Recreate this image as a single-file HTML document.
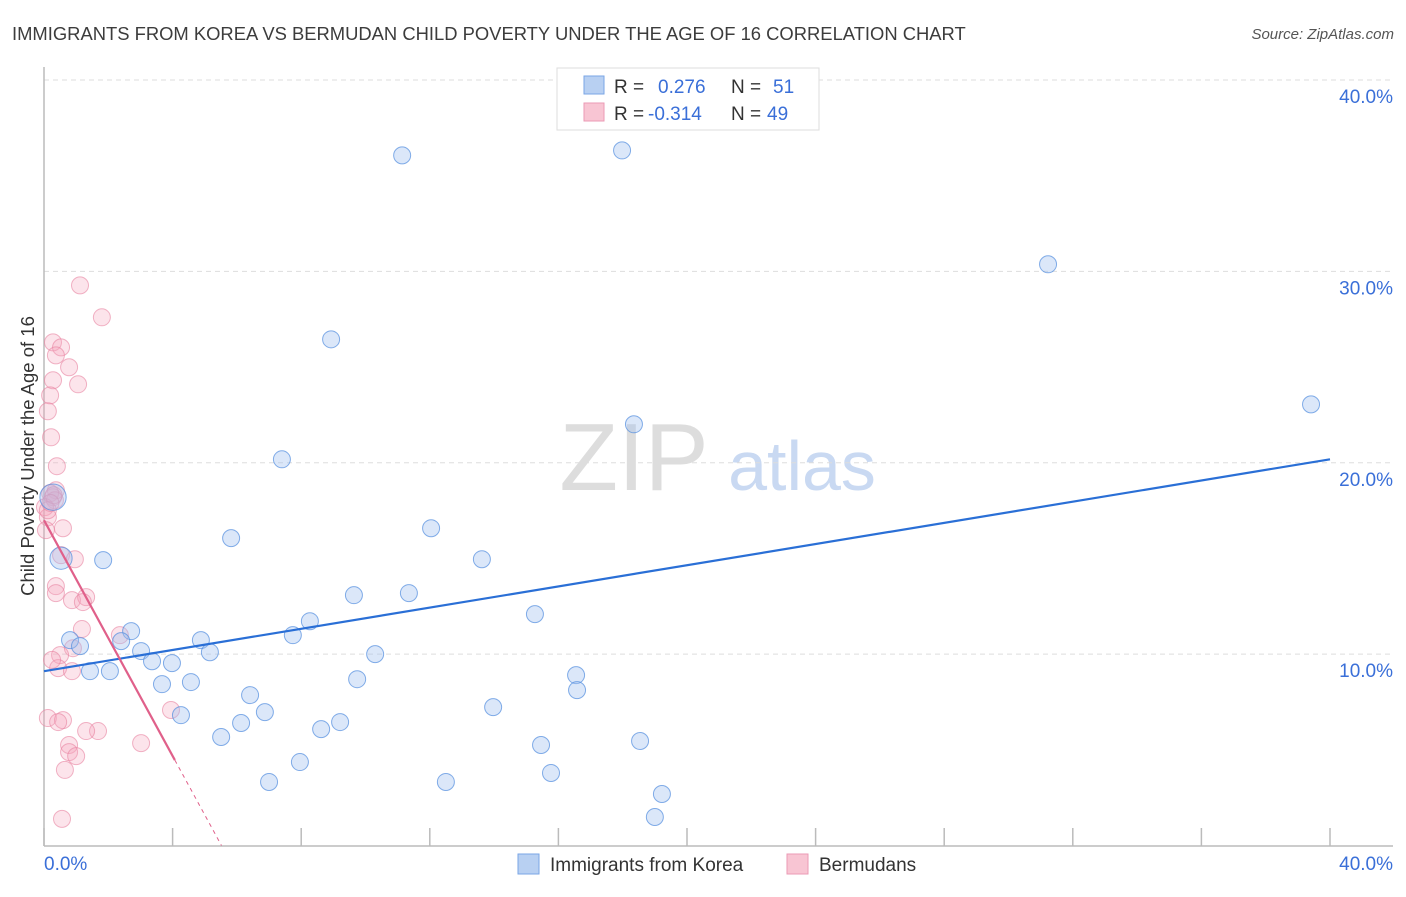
<!DOCTYPE html>
<html><head><meta charset="utf-8"><style>
body{margin:0;background:#fff;font-family:"Liberation Sans",sans-serif;}
svg text{font-family:"Liberation Sans",sans-serif;}
</style></head><body>
<svg id="chart" width="1406" height="892" viewBox="0 0 1406 892" xmlns="http://www.w3.org/2000/svg">
<text x="12" y="40" font-size="18.4" fill="#3c3c3c">IMMIGRANTS FROM KOREA VS BERMUDAN CHILD POVERTY UNDER THE AGE OF 16 CORRELATION CHART</text>
<text x="1394" y="39" font-size="15" fill="#555" text-anchor="end" font-style="italic">Source: ZipAtlas.com</text>
<g>
<text x="634" y="490" font-size="96" fill="#ddd" text-anchor="middle" font-family="Liberation Serif, serif">ZIP</text>
<text x="802" y="490" font-size="70" fill="#c9d9f2" text-anchor="middle">atlas</text>
</g>
<g id="grid"></g>
<g id="axes"></g>
<g id="marks"></g>
<g>
<rect x="557" y="68" width="262" height="62" fill="#fff" stroke="#ddd"/>
<rect x="584" y="76" width="20" height="18" fill="#b8d0f2" stroke="#7aa6e6"/>
<rect x="584" y="103" width="20" height="18" fill="#f8c5d3" stroke="#eb9ab4"/>
<text x="614" y="93" font-size="19" fill="#333">R =</text>
<text x="658" y="93" font-size="19" fill="#3a6fd8">0.276</text>
<text x="731" y="93" font-size="19" fill="#333">N =</text>
<text x="773" y="93" font-size="19" fill="#3a6fd8">51</text>
<text x="614" y="120" font-size="19" fill="#333">R =</text>
<text x="648" y="120" font-size="19" fill="#3a6fd8">-0.314</text>
<text x="731" y="120" font-size="19" fill="#333">N =</text>
<text x="767" y="120" font-size="19" fill="#3a6fd8">49</text>
</g>
<g>
<rect x="518" y="854" width="21" height="20" fill="#b8d0f2" stroke="#7aa6e6"/>
<text x="550" y="871" font-size="19" fill="#333">Immigrants from Korea</text>
<rect x="787" y="854" width="21" height="20" fill="#f8c5d3" stroke="#eb9ab4"/>
<text x="819" y="871" font-size="19" fill="#333">Bermudans</text>
</g>
<text transform="translate(34,456) rotate(-90)" font-size="18.5" fill="#333" text-anchor="middle">Child Poverty Under the Age of 16</text>
</svg>
<script>
const yTicks=[10,20,30,40];
const yTickLabels=["10.0%","20.0%","30.0%","40.0%"];
const xTickVals=[0,4,8,12,16,20,24,28,32,36,40];
const xEndLabels=["0.0%","40.0%"];
const koreaX=[11.14,17.98,31.23,39.41,8.93,18.35,7.40,12.04,5.82,13.62,1.84,0.53,0.28,9.64,11.35,15.27,8.27,7.74,2.71,4.88,0.81,1.12,2.40,3.02,5.16,3.36,3.98,10.30,1.43,2.05,16.55,3.67,4.57,9.74,16.58,6.41,6.87,4.26,13.97,9.21,6.13,8.62,5.51,18.54,15.46,7.96,15.77,7.00,12.50,19.22,19.00];
const koreaY=[36.06,36.32,30.37,23.05,26.45,22.01,20.18,16.58,16.06,14.96,14.91,15.01,18.20,13.08,13.19,12.09,11.72,10.99,11.20,10.73,10.73,10.42,10.68,10.16,10.10,9.63,9.53,10.00,9.11,9.11,8.90,8.43,8.54,8.69,8.12,7.86,6.97,6.81,7.23,6.45,6.40,6.08,5.67,5.46,5.25,4.36,3.79,3.32,3.32,2.69,1.49];
const koreaW=[1,1,1,1,1,1,1,1,1,1,1,1.7,2.4,1,1,1,1,1,1,1,1,1,1,1,1,1,1,1,1,1,1,1,1,1,1,1,1,1,1,1,1,1,1,1,1,1,1,1,1,1,1];
const bermX=[1.12,1.80,0.28,0.53,0.37,0.78,0.28,1.06,0.19,0.12,0.22,0.40,0.28,0.37,0.19,0.34,0.03,0.12,0.12,0.59,0.06,0.53,0.96,0.37,0.37,0.87,1.31,1.21,1.18,2.36,0.90,0.50,0.44,0.87,3.95,3.02,1.68,1.31,0.12,0.59,0.44,0.78,0.78,1.00,0.65,0.56,0.25,0.3,0.2];
const bermY=[29.27,27.60,26.29,26.03,25.61,24.99,24.31,24.10,23.52,22.69,21.33,19.82,18.20,18.56,18.41,18.04,17.68,17.15,17.52,16.58,16.48,15.17,14.96,13.55,13.19,12.82,12.98,12.72,11.31,10.99,10.31,9.95,9.27,9.11,7.08,5.35,5.98,5.98,6.66,6.55,6.45,5.25,4.88,4.67,3.95,1.39,9.7,18.3,17.9];
const koreaTrend=[9.11,20.18];
const bermTrend=[17.0,-3.08,4.07];
const NS="http://www.w3.org/2000/svg";
const X0=44,X1=1330,Y0=845.5,Y40=80;
const sx=v=>X0+(X1-X0)*v/40, sy=v=>Y0-(Y0-Y40)*v/40;
function mk(tag,attrs,parent){const e=document.createElementNS(NS,tag);for(const k in attrs)e.setAttribute(k,attrs[k]);document.getElementById(parent).appendChild(e);return e;}
yTicks.forEach((t,i)=>{
 const g=mk('line',{x1:X0,x2:1393,y1:sy(t),y2:sy(t),stroke:'#ddd','stroke-dasharray':'5,4'},'grid');
 
 
 const l=mk('text',{x:1393,y:sy(t)+23,'font-size':19,fill:'#3a6fd8','text-anchor':'end'},'grid');
 l.textContent=yTickLabels[i];
 
 
});
const ya=mk('line',{x1:X0,x2:X0,y1:67,y2:846,stroke:'#bbb','stroke-width':1.5},'axes');


const xa=mk('line',{x1:X0,x2:1393,y1:846,y2:846,stroke:'#bbb','stroke-width':1.5},'axes');


xTickVals.forEach(t=>{const k=mk('line',{x1:sx(t),x2:sx(t),y1:828,y2:846,stroke:'#bbb','stroke-width':1.5},'axes');
 
 });
[[0,'start',44],[40,'end',1393]].forEach((d,i)=>{const t=mk('text',{x:d[2],y:870,'font-size':19,fill:'#3a6fd8','text-anchor':d[1]},'axes');t.textContent=xEndLabels[i];
 
 });
bermX.forEach((v,i)=>{const c=mk('circle',{cx:sx(v),cy:sy(bermY[i]),r:8.5,fill:'rgba(245,165,190,0.3)',stroke:'rgba(232,130,160,0.6)','stroke-width':1},'marks');
 
 });
koreaX.forEach((v,i)=>{const c=mk('circle',{cx:sx(v),cy:sy(koreaY[i]),r:8.5*Math.sqrt(koreaW[i]),fill:'rgba(160,192,238,0.38)',stroke:'rgba(80,140,222,0.7)','stroke-width':1},'marks');
 
 });
const kt=mk('line',{x1:sx(0),y1:sy(koreaTrend[0]),x2:sx(40),y2:sy(koreaTrend[1]),stroke:'#2a6fd6','stroke-width':2.2},'marks');


const bf=x=>bermTrend[0]+bermTrend[1]*x;
const bt=mk('line',{x1:sx(0),y1:sy(bf(0)),x2:sx(bermTrend[2]),y2:sy(bf(bermTrend[2])),stroke:'#e0608a','stroke-width':2.2},'marks');


const xz=-bermTrend[0]/bermTrend[1];
const bd=mk('line',{x1:sx(bermTrend[2]),y1:sy(bf(bermTrend[2])),x2:sx(xz),y2:sy(0),stroke:'#e0608a','stroke-width':1,'stroke-dasharray':'4,4'},'marks');


</script>
</body></html>
